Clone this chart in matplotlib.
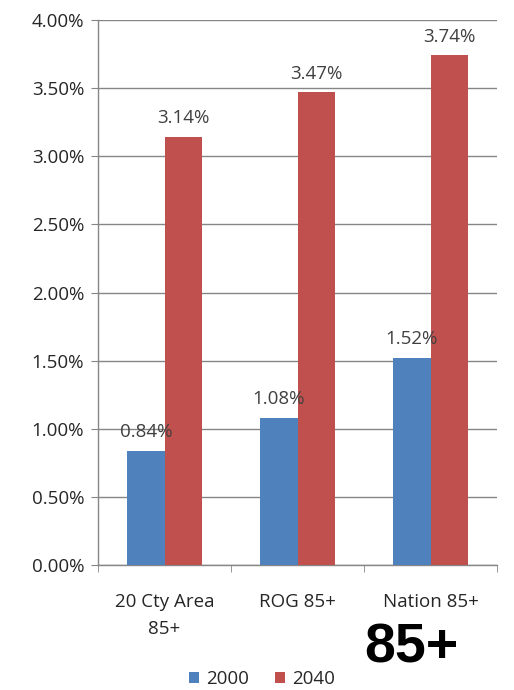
import numpy as np
import matplotlib.pyplot as plt
from matplotlib.ticker import FixedLocator, FuncFormatter

categories = ["20 Cty Area\n85+", "ROG 85+", "Nation 85+"]
years = ["2000", "2040"]
share_2000 = [0.84, 1.08, 1.52]
share_2040 = [3.14, 3.47, 3.74]
yticks = [0.0, 0.5, 1.0, 1.5, 2.0, 2.5, 3.0, 3.5, 4.0]

blue = "#4F81BD"
red = "#C0504D"
grid = "#868686"
text = "#262626"
fs = 13.5

plt.rcParams['font.family'] = ['Open Sans', 'DejaVu Sans']

fig = plt.figure(figsize=(5.14, 6.9), dpi=100)
ax = fig.add_axes([0.1907, 0.181, 0.7763, 0.790])

x = np.arange(len(categories))
w = 0.282
b1 = ax.bar(x - w / 2, share_2000, w, color=blue, label=years[0], zorder=3)
b2 = ax.bar(x + w / 2, share_2040, w, color=red, label=years[1], zorder=3)

for bars, vals in ((b1, share_2000), (b2, share_2040)):
    for r, v in zip(bars, vals):
        ax.annotate(f"{v:.2f}%", (r.get_x() + r.get_width() / 2, v),
                    xytext=(0, 7), textcoords="offset points",
                    ha="center", va="bottom", fontsize=fs, color="#404040",
                    zorder=4)

ax.set_xlim(-0.5, 2.5)
ax.set_ylim(0, 4.0)
ax.set_yticks(yticks)
ax.yaxis.set_major_formatter(FuncFormatter(lambda v, p: f"{v:.2f}%"))
ax.set_xticks(x)
ax.set_xticklabels(categories, fontsize=fs, color=text, linespacing=1.65)
ax.xaxis.set_minor_locator(FixedLocator([-0.5, 0.5, 1.5, 2.5]))
ax.tick_params(axis="x", which="major", length=0, pad=20)
ax.tick_params(axis="x", which="minor", length=5, color=grid, direction="out")
ax.tick_params(axis="y", length=5, color=grid, labelsize=fs, labelcolor=text, pad=5)
ax.yaxis.grid(True, color=grid, linewidth=1.0, zorder=0)
for s in ("top", "right"):
    ax.spines[s].set_visible(False)
for s in ("left", "bottom"):
    ax.spines[s].set_color(grid)
    ax.spines[s].set_linewidth(1.0)

fig.legend(handles=[b1, b2], loc="center", bbox_to_anchor=(0.51, 0.016),
           ncol=2, frameon=False, fontsize=fs, handlelength=0.5,
           handleheight=0.5, handletextpad=0.4, columnspacing=1.4,
           labelcolor=text)

fig.text(0.80, 0.06, "85+", fontsize=40, fontweight="bold",
         family="Liberation Sans", ha="center", va="center", color="black")

fig.savefig("out.png", dpi=100)
